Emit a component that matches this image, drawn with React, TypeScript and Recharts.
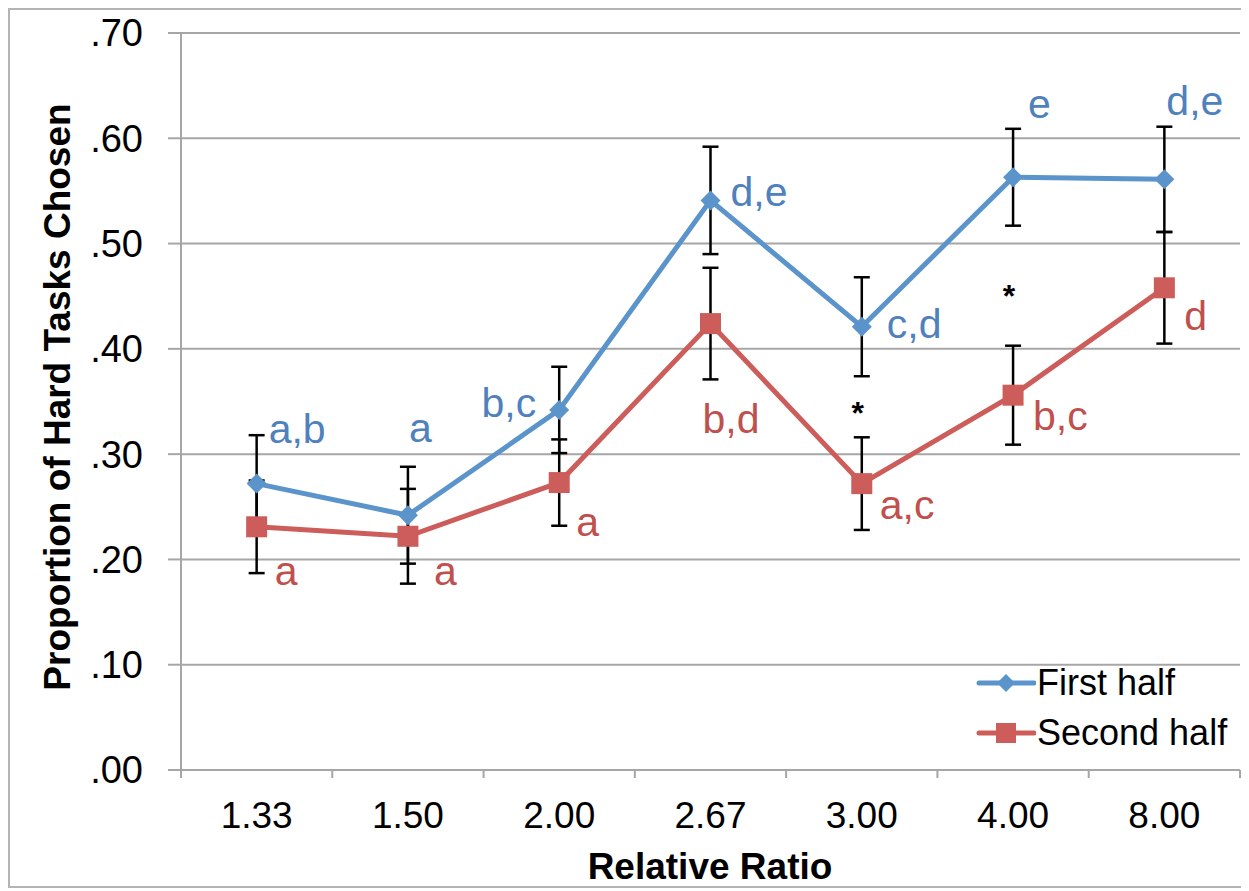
import React from "react";
import {
  ComposedChart,
  Line,
  XAxis,
  YAxis,
  CartesianGrid,
  ErrorBar,
  LabelList,
  Legend,
  Label,
} from "recharts";

const ratios = ["1.33", "1.50", "2.00", "2.67", "3.00", "4.00", "8.00"];
const firstHalf = [0.272, 0.242, 0.342, 0.541, 0.421, 0.563, 0.561];
const firstHalfErr = [0.046, 0.046, 0.041, 0.051, 0.047, 0.046, 0.05];
const secondHalf = [0.231, 0.222, 0.273, 0.424, 0.272, 0.356, 0.458];
const secondHalfErr = [0.044, 0.045, 0.041, 0.053, 0.044, 0.047, 0.053];
const firstHalfLetters = ["a,b", "a", "b,c", "d,e", "c,d", "e", "d,e"];
const secondHalfLetters = ["a", "a", "a", "b,d", "a,c", "b,c", "d"];
const significant = [null, null, null, null, 0.347, 0.458, null];
const yTicks = [0, 0.1, 0.2, 0.3, 0.4, 0.5, 0.6, 0.7];

// where each letter sits relative to its point: [dx, dy, anchor]
const firstLetterPos: [number, number, string][] = [
  [12, -41, "start"],
  [1, -73, "start"],
  [-23, 7, "end"],
  [20, 6, "start"],
  [25, 11, "start"],
  [15, -59, "start"],
  [2, -64, "start"],
];
const secondLetterPos: [number, number, string][] = [
  [18, 58, "start"],
  [26, 49, "start"],
  [17, 53, "start"],
  [-8, 109, "start"],
  [18, 35, "start"],
  [20, 35, "start"],
  [20, 42, "start"],
];

const BLUE = "#5b94cb";
const BLUE_TEXT = "#4f81bd";
const RED = "#cd5d5a";
const RED_TEXT = "#c0504d";
const GRID = "#a6a6a6";

const data = ratios.map((r, i) => ({
  ratio: r,
  pos: i + 0.5,
  first: firstHalf[i],
  firstErr: firstHalfErr[i],
  second: secondHalf[i],
  secondErr: secondHalfErr[i],
  sig: significant[i],
}));

const xTicks: number[] = [];
for (let i = 0; i <= ratios.length * 2; i++) xTicks.push(i / 2);

const Diamond = (props: any) => {
  const { cx, cy } = props;
  if (cx == null || cy == null) return <g />;
  const s = 10;
  return (
    <polygon
      points={`${cx},${cy - s} ${cx + s},${cy} ${cx},${cy + s} ${cx - s},${cy}`}
      fill={BLUE}
    />
  );
};

const Square = (props: any) => {
  const { cx, cy } = props;
  if (cx == null || cy == null) return <g />;
  return <rect x={cx - 10.5} y={cy - 10.5} width={21} height={21} fill={RED} />;
};

const Asterisk = (props: any) => {
  const { cx, cy, payload } = props;
  if (cx == null || cy == null || payload?.sig == null) return <g />;
  return (
    <text x={cx - 4} y={cy + 19} textAnchor="middle" fontSize={32} fontWeight="bold" fill="#000">
      *
    </text>
  );
};

const letterRenderer =
  (letters: string[], pos: [number, number, string][], color: string) =>
  (props: any) => {
    const vb = props.viewBox || {};
    const x = props.x ?? vb.x;
    const y = props.y ?? vb.y;
    const i = props.index;
    if (x == null || y == null || i == null) return null;
    const [dx, dy, anchor] = pos[i];
    return (
      <text x={x + dx} y={y + dy} textAnchor={anchor as any} fontSize={41} fill={color}>
        {letters[i]}
      </text>
    );
  };

const XTick = (props: any) => {
  const { x, y, payload } = props;
  const v = payload.value;
  if (Number.isInteger(v)) {
    return <line x1={x} y1={y} x2={x} y2={y + 8} stroke={GRID} strokeWidth={2} />;
  }
  return (
    <text x={x} y={y + 58} textAnchor="middle" fontSize={37} fill="#000">
      {ratios[Math.floor(v)]}
    </text>
  );
};

const LegendBox = (props: any) => {
  const items = (props.payload || []).filter((p: any) => p.dataKey !== "sig");
  return (
    <div>
      {items.map((p: any) => (
        <div key={p.value} style={{ display: "flex", alignItems: "center", height: 50 }}>
          <svg width={60} height={30}>
            <line x1={3} y1={15} x2={58} y2={15} stroke={p.color} strokeWidth={5} strokeLinecap="round" />
            {p.dataKey === "first" ? (
              <polygon points="30,6 39,15 30,24 21,15" fill={p.color} />
            ) : (
              <rect x={20} y={5} width={20} height={20} fill={p.color} />
            )}
          </svg>
          <span style={{ fontSize: 36, color: "#000", marginLeft: 1 }}>{p.value}</span>
        </div>
      ))}
    </div>
  );
};

export default function App() {
  return (
    <div
      style={{
        width: 1236,
        height: 876,
        border: `2px solid #b4b4b4`,
        fontFamily: '"Liberation Sans", Arial, sans-serif',
        position: "relative",
        overflow: "visible",
      }}
    >
      <ComposedChart
        width={1236}
        height={879}
        data={data}
        margin={{ top: 23, right: 6, bottom: 0, left: 0 }}
        style={{ overflow: "visible" }}
      >
        <CartesianGrid horizontal vertical={false} stroke={GRID} strokeWidth={2} />
        <XAxis
          dataKey="pos"
          type="number"
          domain={[0, ratios.length]}
          ticks={xTicks}
          interval={0}
          tick={<XTick />}
          tickLine={false}
          tickSize={0}
          tickMargin={0}
          axisLine={{ stroke: GRID, strokeWidth: 2 }}
          height={119}
        >
          <Label
            content={() => (
              <text x={700} y={869} textAnchor="middle" fontSize={37} fontWeight="bold" fill="#000">
                Relative Ratio
              </text>
            )}
          />
        </XAxis>
        <YAxis
          domain={[0, 0.7]}
          ticks={yTicks}
          interval={0}
          width={171}
          tickSize={13}
          tickMargin={25}
          tick={{ fontSize: 38, fill: "#000" }}
          tickLine={{ stroke: GRID, strokeWidth: 2 }}
          axisLine={{ stroke: GRID, strokeWidth: 2 }}
          tickFormatter={(v: number) => v.toFixed(2).replace(/^0/, "")}
        >
          <Label
            content={() => (
              <text
                x={60}
                y={387}
                transform="rotate(-90 60 387)"
                textAnchor="middle"
                fontSize={37}
                fontWeight="bold"
                fill="#000"
              >
                Proportion of Hard Tasks Chosen
              </text>
            )}
          />
        </YAxis>
        <Legend
          layout="horizontal"
          verticalAlign="middle"
          align="center"
          content={<LegendBox />}
          wrapperStyle={{ left: 966, top: 648, width: "auto" }}
        />
        <Line
          name="First half"
          dataKey="first"
          stroke={BLUE}
          strokeWidth={5}
          dot={<Diamond />}
          activeDot={false}
          isAnimationActive={false}
        >
          <ErrorBar dataKey="firstErr" width={8} stroke="#000" strokeWidth={2.5} direction="y" />
          <LabelList dataKey="first" content={letterRenderer(firstHalfLetters, firstLetterPos, BLUE_TEXT)} />
        </Line>
        <Line
          name="Second half"
          dataKey="second"
          stroke={RED}
          strokeWidth={5}
          dot={<Square />}
          activeDot={false}
          isAnimationActive={false}
        >
          <ErrorBar dataKey="secondErr" width={8} stroke="#000" strokeWidth={2.5} direction="y" />
          <LabelList dataKey="second" content={letterRenderer(secondHalfLetters, secondLetterPos, RED_TEXT)} />
        </Line>
        <Line
          name="sig"
          dataKey="sig"
          stroke="none"
          legendType="none"
          dot={<Asterisk />}
          activeDot={false}
          isAnimationActive={false}
        />
      </ComposedChart>
    </div>
  );
}
